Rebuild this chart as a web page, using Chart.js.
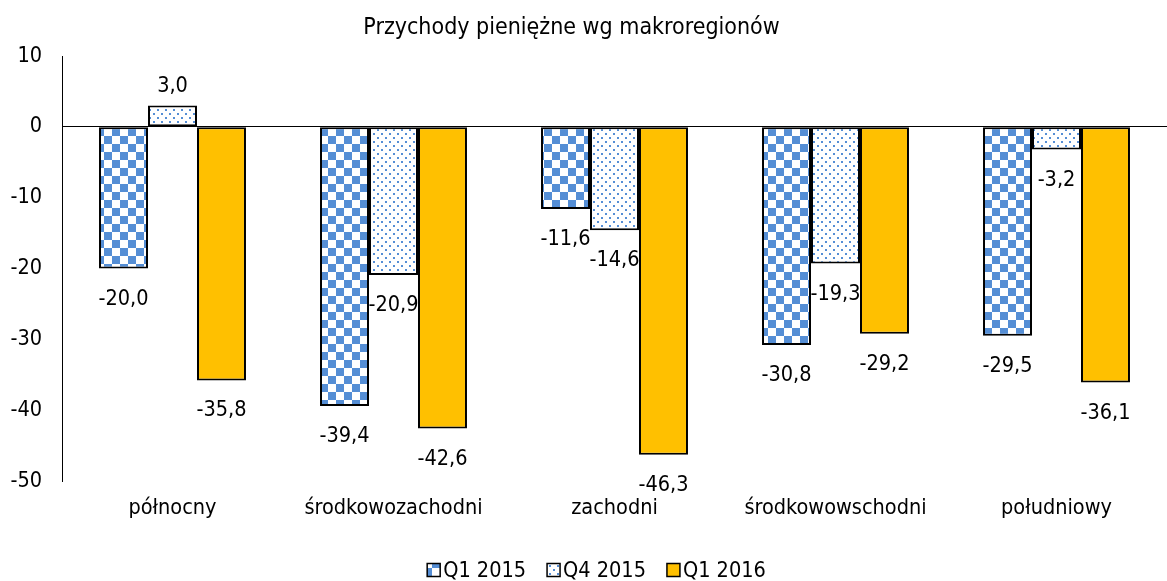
<!DOCTYPE html>
<html lang="pl">
<head>
<meta charset="UTF-8">
<title>Przychody pieniężne wg makroregionów</title>
<script src="https://cdn.jsdelivr.net/npm/chart.js"></script>
<style>
  body { margin: 0; background: #fff; }
  #wrap { width: 1167px; height: 581px; }
</style>
</head>
<body>
<div id="wrap"><canvas id="myChart"></canvas></div>
<script>
// dane
const categories = ['północny', 'środkowozachodni', 'zachodni', 'środkowowschodni', 'południowy'];
const q1_2015 = [-20.0, -39.4, -11.6, -30.8, -29.5];
const q4_2015 = [3.0, -20.9, -14.6, -19.3, -3.2];
const q1_2016 = [-35.8, -42.6, -46.3, -29.2, -36.1];
const seriesNames = ['Q1 2015', 'Q4 2015', 'Q1 2016'];
const yTicks = [10, 0, -10, -20, -30, -40, -50];
const titleText = 'Przychody pieniężne wg makroregionów';

const FONT = '"DejaVu Sans Condensed", "DejaVu Sans", sans-serif';
const FSIZE = 21.5;
const BLUE = '#558ED5';

// wzory wypełnienia
function checkerPattern() {
    const c = document.createElement('canvas');
    c.width = 16; c.height = 16;
    const g = c.getContext('2d');
    g.fillStyle = '#fff'; g.fillRect(0, 0, 16, 16);
    g.fillStyle = BLUE;
    g.fillRect(0, 0, 8, 8);
    g.fillRect(8, 8, 8, 8);
    return g.createPattern(c, 'repeat');
}
function dotsPattern() {
    const c = document.createElement('canvas');
    c.width = 8; c.height = 8;
    const g = c.getContext('2d');
    g.fillStyle = '#fff'; g.fillRect(0, 0, 8, 8);
    g.fillStyle = BLUE;
    g.fillRect(1, 1, 2, 2);
    g.fillRect(5, 5, 2, 2);
    return g.createPattern(c, 'repeat');
}

function fmt(v) { return v.toFixed(1).replace('.', ','); }

// etykiety danych pod/nad słupkami
const valueLabels = {
    id: 'valueLabels',
    afterDatasetsDraw(chart) {
        const ctx = chart.ctx;
        ctx.save();
        ctx.font = FSIZE + 'px ' + FONT;
        ctx.fillStyle = '#000';
        ctx.textAlign = 'center';
        ctx.textBaseline = 'alphabetic';
        chart.data.datasets.forEach((ds, i) => {
            chart.getDatasetMeta(i).data.forEach((bar, j) => {
                const v = ds.data[j];
                const y = v < 0 ? bar.y + 36 : bar.y - 14;
                ctx.fillText(fmt(v), bar.x, y);
            });
        });
        ctx.restore();
    }
};

// tytuł i legenda rysowane ręcznie (pozycje jak w oryginale)
const titleAndLegend = {
    id: 'titleAndLegend',
    afterDraw(chart) {
        const ctx = chart.ctx;
        ctx.save();
        ctx.fillStyle = '#000';
        ctx.textBaseline = 'middle';
        ctx.textAlign = 'center';
        ctx.font = '23px ' + FONT;
        ctx.fillText(titleText, chart.width / 2 - 12, 28);

        ctx.font = FSIZE + 'px ' + FONT;
        ctx.textAlign = 'left';
        const box = 13, gap = 3, spacing = 21;
        const items = chart.data.datasets.map(ds => ({ ds, w: ctx.measureText(ds.label).width }));
        const total = items.reduce((s, it) => s + box + gap + it.w, 0) + spacing * (items.length - 1);
        let x = chart.width / 2 + 13 - total / 2;
        const cy = 570;
        items.forEach(it => {
            ctx.fillStyle = it.ds.backgroundColor;
            ctx.fillRect(x, cy - box / 2, box, box);
            ctx.strokeStyle = '#000';
            ctx.lineWidth = 1.5;
            ctx.strokeRect(x, cy - box / 2, box, box);
            ctx.fillStyle = '#000';
            ctx.fillText(it.ds.label, x + box + gap, cy + 1);
            x += box + gap + it.w + spacing;
        });
        ctx.restore();
    }
};

const common = { borderColor: '#000', borderWidth: 2, borderSkipped: false, barPercentage: 1, categoryPercentage: 0.665 };

const data = {
    labels: categories,
    datasets: [
        Object.assign({ label: seriesNames[0], data: q1_2015, backgroundColor: checkerPattern() }, common),
        Object.assign({ label: seriesNames[1], data: q4_2015, backgroundColor: dotsPattern() }, common),
        Object.assign({ label: seriesNames[2], data: q1_2016, backgroundColor: '#FFC000' }, common)
    ]
};

const config = {
    type: 'bar',
    data: data,
    plugins: [valueLabels, titleAndLegend],
    options: {
        responsive: true,
        maintainAspectRatio: false,
        animation: false,
        layout: { padding: { left: 0, right: 0, top: 56, bottom: 0 } },
        plugins: {
            title: { display: false },
            legend: { display: false },
            tooltip: { enabled: false }
        },
        scales: {
            x: {
                grid: { display: false, drawTicks: false },
                border: { display: false },
                ticks: { color: '#000', font: { family: FONT, size: FSIZE }, padding: 15, maxRotation: 0 },
                afterFit(scale) { scale.height = 100; }
            },
            y: {
                min: -50,
                max: 10,
                afterBuildTicks(scale) { scale.ticks = yTicks.map(v => ({ value: v })); },
                grid: {
                    drawTicks: false,
                    color: c => c.tick && c.tick.value === 0 ? '#000' : 'rgba(0,0,0,0)',
                    lineWidth: 1
                },
                border: { display: true, color: '#000', width: 1 },
                ticks: { color: '#000', font: { family: FONT, size: FSIZE }, padding: 20 },
                afterFit(scale) { scale.width = 62; }
            }
        }
    }
};

const ctx = document.getElementById('myChart').getContext('2d');
const myChart = new Chart(ctx, config);
</script>
</body>
</html>
